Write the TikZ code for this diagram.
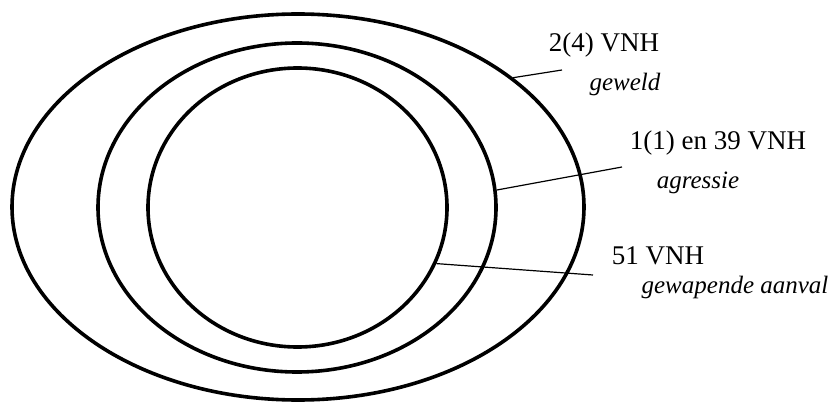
\documentclass[tikz,border=0pt]{standalone}
\usepackage{fontspec}
\setmainfont{Liberation Serif}
\usetikzlibrary{shapes.geometric}

\begin{document}
\begin{tikzpicture}[
  x=1pt, y=-1pt,
  ovale/.style={draw=black, line width=3.6pt, ellipse, inner sep=0pt},
  richiamo/.style={draw=black, line width=1.2pt},
  sigla/.style={inner sep=0pt, font=\fontsize{27}{30}\selectfont},
  nome/.style={inner sep=0pt, font=\fontsize{25}{28}\selectfont\itshape}
]
\useasboundingbox (0,0) rectangle (840,403);

%--------------------------------------------------------------
% Ellissi concentriche
%--------------------------------------------------------------
\node[ovale, minimum width=572pt, minimum height=386pt] (geweld) at (298,207) {};
\node[ovale, minimum width=398pt, minimum height=329pt] (agressie) at (297,207.5) {};
\node[ovale, minimum width=299pt, minimum height=279pt] (aanval) at (297.5,207.5) {};

%--------------------------------------------------------------
% Etichette
%--------------------------------------------------------------
\node[sigla] (vnhA) at (604,45) {2(4) VNH};
\node[nome] (nomeA) at (625,84) {geweld};
\node[sigla] (vnhB) at (718,143) {1(1) en 39 VNH};
\node[nome] (nomeB) at (698,183) {agressie};
\node[sigla] (vnhC) at (658,256) {51 VNH};
\node[nome] (nomeC) at (735,287) {gewapende aanval};

%--------------------------------------------------------------
% Linee di richiamo
%--------------------------------------------------------------
\coordinate (fineA) at (562,70);
\coordinate (fineB) at (622,167);
\coordinate (fineC) at (593,275);
\draw[richiamo] (geweld.31) -- (fineA);
\draw[richiamo] (agressie.5.6) -- (fineB);
\draw[richiamo] (aanval.-22) -- (fineC);

\end{tikzpicture}
\end{document}
